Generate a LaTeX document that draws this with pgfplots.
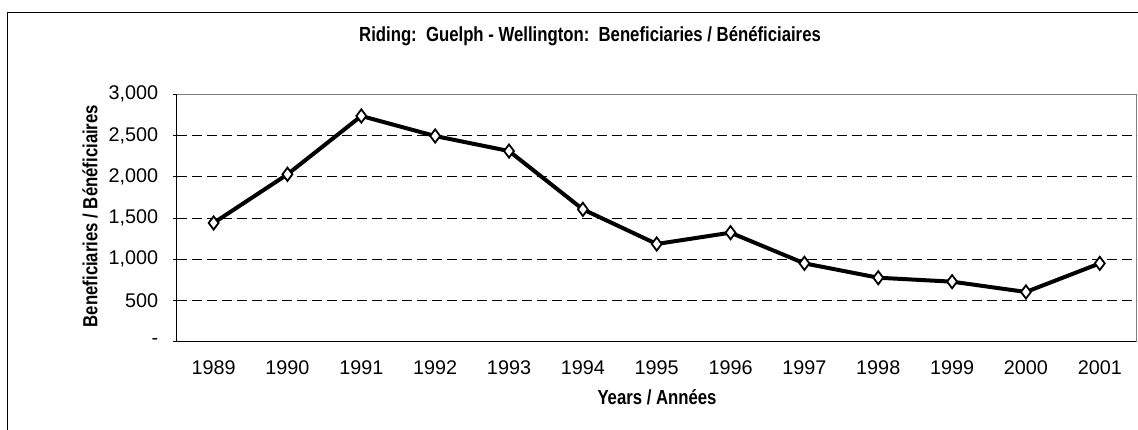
\documentclass[border=0pt]{standalone}
\usepackage{fontspec}
\setmainfont{Liberation Sans}
\newfontfamily\narrowfont[FakeStretch=0.82]{Liberation Sans}
\usepackage{pgfplots}
\pgfplotsset{compat=1.18}
\begin{document}
\begin{tikzpicture}[x=1pt,y=1pt]
\useasboundingbox (0,0) rectangle (569,214.5);
\draw[black,line width=0.6pt] (3.6,-20) -- (3.6,208.3) -- (620,208.3);
\begin{axis}[
  at={(88.35pt,43.65pt)}, anchor=south west,
  scale only axis, width=480pt, height=123.7pt,
  xmin=-0.5, xmax=12.5, ymin=0, ymax=3000,
  axis x line*=bottom, axis y line*=left,
  axis line style={black, line width=0.6pt},
  xtick={0,...,12},
  xticklabels={1989,1990,1991,1992,1993,1994,1995,1996,1997,1998,1999,2000,2001},
  minor xtick={-0.5,0.5,...,12.5},
  xtick style={draw=none},
  minor x tick style={black, line width=0.5pt},
  minor tick length=2.6pt,
  ytick={0,500,...,3000},
  yticklabels={-,500,{1,000},{1,500},{2,000},{2,500},{3,000}},
  major tick length=1.7pt,
  tick align=outside,
  y tick style={black, line width=0.5pt},
  ymajorgrids,
  major grid style={black, line width=0.5pt, dash pattern=on 5pt off 2.5pt},
  tick label style={font=\fontsize{9.9}{11}\selectfont},
  xticklabel style={yshift=-4.5pt},
  yticklabel style={xshift=-4pt},
  clip=false,
]
\draw[gray, line width=0.6pt] (rel axis cs:0,1) -- (rel axis cs:1,1) -- (rel axis cs:1,0);
\addplot[black, line width=2pt, mark=diamond*, mark size=3.3pt,
  mark options={fill=white, draw=black, line width=0.9pt, solid}]
  coordinates {(0,1440) (1,2030) (2,2737) (3,2494) (4,2312) (5,1605) (6,1185) (7,1322) (8,950) (9,776) (10,728) (11,603) (12,950)};
\end{axis}
\node[font=\narrowfont\bfseries\fontsize{10.2}{12}\selectfont] at (295,196.5) {Riding:\ \ Guelph - Wellington:\ \ Beneficiaries / Bénéficiaires};
\node[font=\narrowfont\bfseries\fontsize{10.2}{12}\selectfont, rotate=90] at (45,106.5) {Beneficiaries / Bénéficiaires};
\node[font=\narrowfont\bfseries\fontsize{10.2}{12}\selectfont] at (328.5,16) {Years / Années};
\end{tikzpicture}
\end{document}
